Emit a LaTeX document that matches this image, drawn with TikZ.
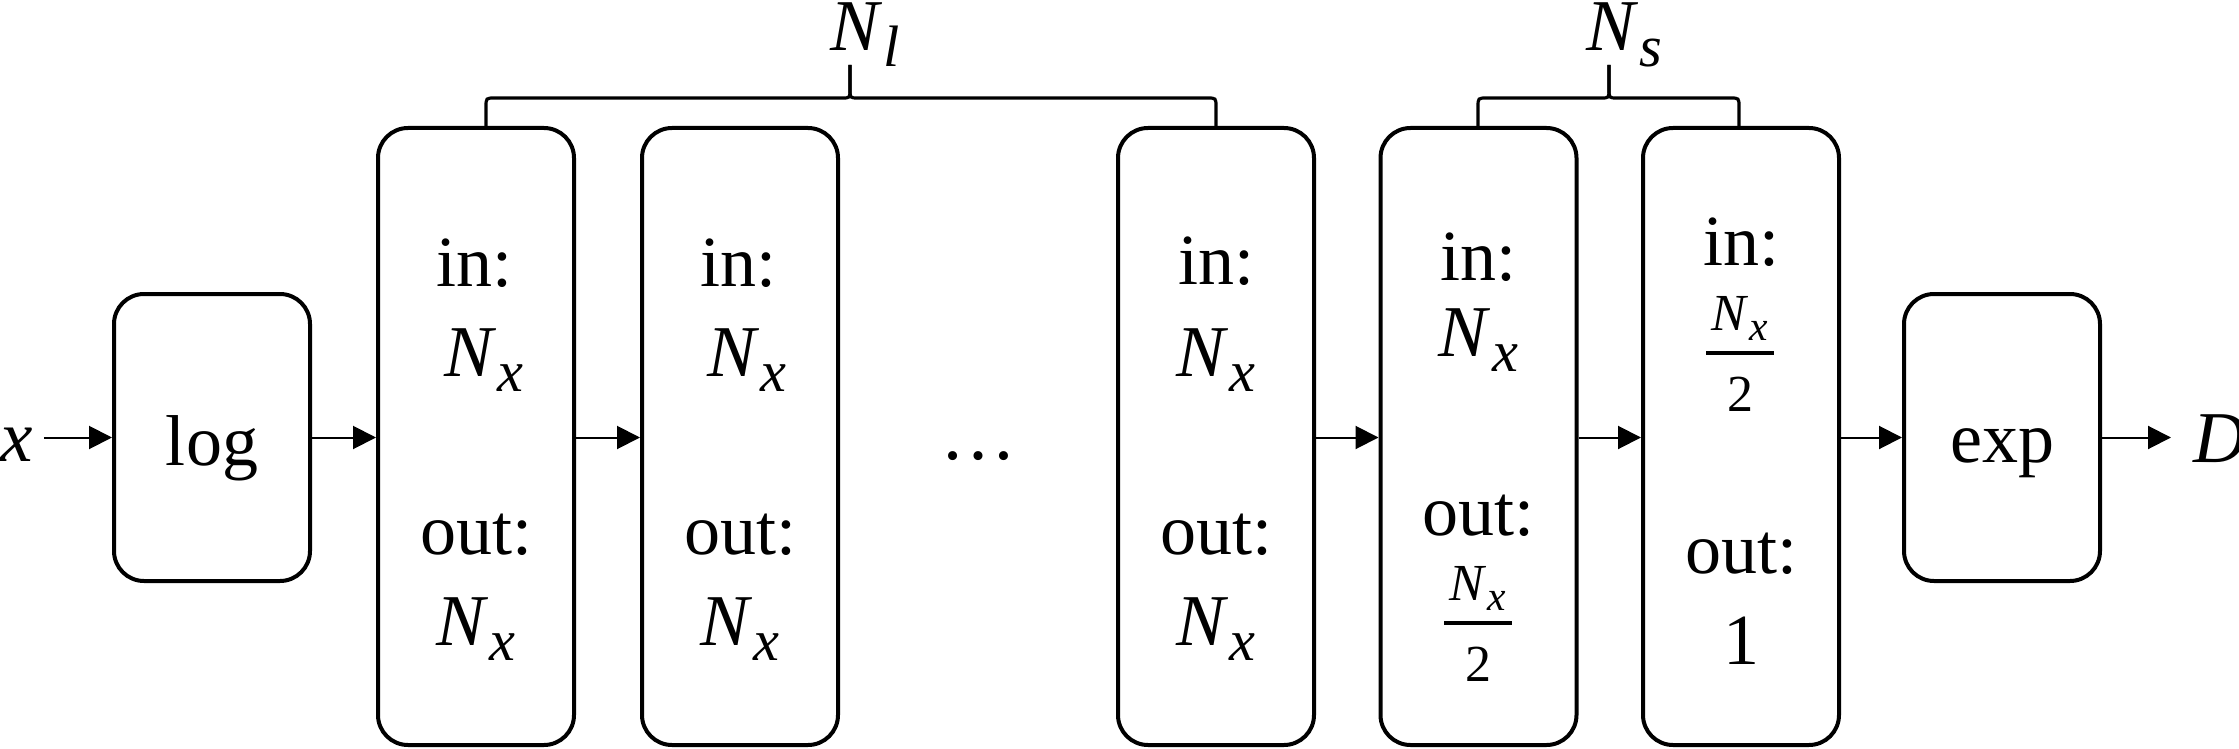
\documentclass[tikz,border=0pt]{standalone}
\usepackage{fontspec}
\setmainfont{Liberation Serif}
\usepackage{graphicx}
\usetikzlibrary{arrows.meta}
\newcommand{\NN}[1]{\textit{N}\kern0.02em\raisebox{-0.21em}{\scalebox{0.8}{\textit{#1}}}}
\begin{document}
\begin{tikzpicture}[x=1pt,y=-1pt,
  box/.style={draw, line width=4pt, rounded corners=30pt, inner sep=0pt, minimum width=196pt},
  tall/.style={box, minimum height=617pt},
  short/.style={box, minimum height=287pt},
  lbl/.style={inner sep=0pt, anchor=base, font=\fontsize{72}{80}\selectfont},
  mth/.style={inner sep=0pt, anchor=base, font=\fontsize{73}{80}\selectfont},
  frac/.style={inner sep=0pt, anchor=base, font=\fontsize{52}{56}\selectfont},
  conn/.style={line width=2pt, -{Triangle[length=23pt,width=23pt]}},
  bar/.style={line width=4pt},
  bracepath/.style={line width=3.2pt}]
\useasboundingbox (0,0) rectangle (2239,749);

% boxes
\node[short] (log) at (212,437.5) {};
\node[tall] (b1) at (476,436.5) {};
\node[tall] (b2) at (740,436.5) {};
\node[tall] (b3) at (1216,436.5) {};
\node[tall] (b4) at (1478.5,436.5) {};
\node[tall] (b5) at (1741,436.5) {};
\node[short] (exp) at (2002,437.5) {};

% box texts
\node[lbl] (logt) at (212,465) {log};
\node[lbl] (expt) at (2002,462) {exp};

\node[lbl] (in1) at (474,286) {in:};
\node[mth] (nin1) at (484,376) {\NN{x}};
\node[lbl] (out1) at (476,554) {out:};
\node[mth] (nout1) at (476,645) {\NN{x}};

\node[lbl] (in2) at (738,286) {in:};
\node[mth] (nin2) at (747,376) {\NN{x}};
\node[lbl] (out2) at (740,554) {out:};
\node[mth] (nout2) at (740,645) {\NN{x}};

\node[lbl] (in3) at (1216,284) {in:};
\node[mth] (nin3) at (1216,376) {\NN{x}};
\node[lbl] (out3) at (1216,554) {out:};
\node[mth] (nout3) at (1216,645) {\NN{x}};

\node[lbl] (in4) at (1478.5,280) {in:};
\node[mth] (nin4) at (1478.5,356) {\NN{x}};
\node[lbl] (out4) at (1478.5,535) {out:};
\node[frac] (num4) at (1478,600) {\NN{x}};
\node[frac] (den4) at (1478,681) {2};
\draw[bar] (1444,622.5) -- (1512,622.5);

\node[lbl] (in5) at (1741,265) {in:};
\node[frac] (num5) at (1740,330) {\NN{x}};
\node[frac] (den5) at (1740,411) {2};
\draw[bar] (1706,352.5) -- (1774,352.5);
\node[lbl] (out5) at (1741,573) {out:};
\node[lbl] (one5) at (1741,664) {1};

% ellipsis
\node[inner sep=0pt, anchor=base, font=\fontsize{76}{80}\selectfont] (dots) at (978,459) {\textellipsis};

% input / output
\node[mth, anchor=base west] (xin) at (0,461) {\textit{x}};
\node[mth, anchor=base west] (dout) at (2193,462) {\textit{D}};

% connectors
\draw[conn] ([xshift=11pt]xin.east |- log.west) -- (log.west);
\draw[conn] (log.east) -- (b1.west |- log.east);
\draw[conn] (b1.east |- log.east) -- (b2.west |- log.east);
\draw[conn] (b3.east |- log.east) -- (b4.west |- log.east);
\draw[conn] (b4.east |- log.east) -- (b5.west |- log.east);
\draw[conn] (b5.east |- log.east) -- (exp.west);
\draw[conn] (exp.east) -- ([xshift=-22pt]dout.west |- exp.east);

% braces
\draw[bracepath] (486,127) -- (486,107) .. controls (486,98) .. (495,98) -- (842,98) .. controls (850,98) .. (850,89) -- (850,65);
\draw[bracepath] (850,65) -- (850,89) .. controls (850,98) .. (858,98) -- (1207,98) .. controls (1216,98) .. (1216,107) -- (1216,127);
\node[inner sep=0pt, anchor=base west, font=\fontsize{73}{80}\selectfont] (nl) at (830,51) {\NN{l}};

\draw[bracepath] (1478,127) -- (1478,107) .. controls (1478,98) .. (1487,98) -- (1601,98) .. controls (1609,98) .. (1609,89) -- (1609,65);
\draw[bracepath] (1609,65) -- (1609,89) .. controls (1609,98) .. (1617,98) -- (1730,98) .. controls (1739,98) .. (1739,107) -- (1739,127);
\node[inner sep=0pt, anchor=base west, font=\fontsize{73}{80}\selectfont] (ns) at (1586,51) {\NN{s}};
\end{tikzpicture}
\end{document}
